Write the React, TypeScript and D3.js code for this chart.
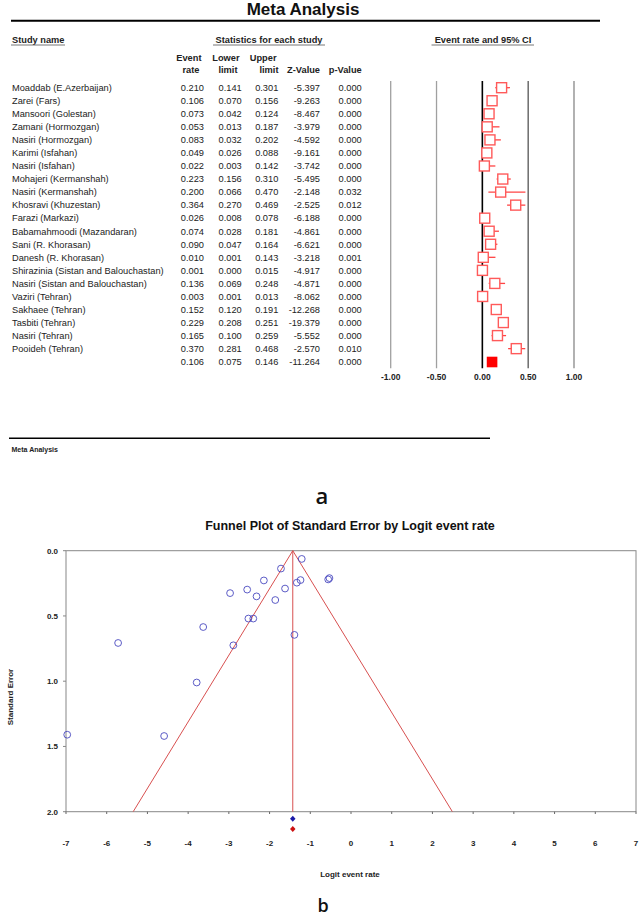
import React from "react";
import * as d3 from "d3";

// ---------- Forest plot data ----------
const studyNames = [
  "Moaddab (E.Azerbaijan)",
  "Zarei (Fars)",
  "Mansoori (Golestan)",
  "Zamani (Hormozgan)",
  "Nasiri (Hormozgan)",
  "Karimi (Isfahan)",
  "Nasiri (Isfahan)",
  "Mohajeri (Kermanshah)",
  "Nasiri (Kermanshah)",
  "Khosravi (Khuzestan)",
  "Farazi (Markazi)",
  "Babamahmoodi (Mazandaran)",
  "Sani (R. Khorasan)",
  "Danesh (R. Khorasan)",
  "Shirazinia (Sistan and Balouchastan)",
  "Nasiri (Sistan and Balouchastan)",
  "Vaziri (Tehran)",
  "Sakhaee (Tehran)",
  "Tasbiti (Tehran)",
  "Nasiri (Tehran)",
  "Pooideh (Tehran)",
];
const eventRate = [0.21, 0.106, 0.073, 0.053, 0.083, 0.049, 0.022, 0.223, 0.2, 0.364, 0.026, 0.074, 0.09, 0.01, 0.001, 0.136, 0.003, 0.152, 0.229, 0.165, 0.37];
const lowerLimit = [0.141, 0.07, 0.042, 0.013, 0.032, 0.026, 0.003, 0.156, 0.066, 0.27, 0.008, 0.028, 0.047, 0.001, 0.0, 0.069, 0.001, 0.12, 0.208, 0.1, 0.281];
const upperLimit = [0.301, 0.156, 0.124, 0.187, 0.202, 0.088, 0.142, 0.31, 0.47, 0.469, 0.078, 0.181, 0.164, 0.143, 0.015, 0.248, 0.013, 0.191, 0.251, 0.259, 0.468];
const zValue = [-5.397, -9.263, -8.467, -3.979, -4.592, -9.161, -3.742, -5.495, -2.148, -2.525, -6.188, -4.861, -6.621, -3.218, -4.917, -4.871, -8.062, -12.268, -19.379, -5.552, -2.57];
const pValue = [0.0, 0.0, 0.0, 0.0, 0.0, 0.0, 0.0, 0.0, 0.032, 0.012, 0.0, 0.0, 0.0, 0.001, 0.0, 0.0, 0.0, 0.0, 0.0, 0.0, 0.01];
const pooled = { rate: 0.106, lower: 0.075, upper: 0.146, z: -11.264, p: 0.0 };
const forestTicks = [-1, -0.5, 0, 0.5, 1];

// ---------- Funnel plot data ----------
const funnelLogit = [-1.33, -2.14, -2.55, -2.89, -2.4, -2.97, -3.79, -1.24, -1.39, -0.56, -3.63, -2.52, -2.32, -4.59, -6.97, -1.86, -5.72, -1.72, -1.21, -1.62, -0.53];
const funnelSE = [0.245, 0.228, 0.298, 0.725, 0.52, 0.325, 1.01, 0.225, 0.645, 0.22, 0.585, 0.52, 0.35, 1.42, 1.41, 0.378, 0.707, 0.137, 0.063, 0.29, 0.21];
const funnelCenter = -1.43;
const funnelXTicks = [-7, -6, -5, -4, -3, -2, -1, 0, 1, 2, 3, 4, 5, 6, 7];
const funnelYTicks = [0, 0.5, 1.0, 1.5, 2.0];

const locale = d3.formatLocale({
  decimal: ".",
  thousands: ",",
  grouping: [3],
  currency: ["", ""],
  minus: "-",
});
const f3 = locale.format(".3f");
const f2 = locale.format(".2f");
const f1 = locale.format(".1f");
const f0 = locale.format("d");
const FONT = "'Liberation Sans', Arial, sans-serif";

export default function App() {
  // forest scales
  const fx = d3.scaleLinear().domain([-1, 1]).range([390.7, 574]);
  const rowY = d3.scaleLinear().domain([0, 21]).range([87.7, 361.7]);
  const sq = 10;

  // funnel scales
  const x = d3.scaleLinear().domain([-7, 7]).range([66, 636]);
  const y = d3.scaleLinear().domain([0, 2]).range([550.7, 811.7]);

  const cols = [
    { xr: 204, vals: eventRate, pv: pooled.rate },
    { xr: 241.7, vals: lowerLimit, pv: pooled.lower },
    { xr: 278.3, vals: upperLimit, pv: pooled.upper },
    { xr: 320, vals: zValue, pv: pooled.z },
    { xr: 361.7, vals: pValue, pv: pooled.p },
  ];

  const lineColors = ["#a0a0a0", "#a0a0a0", "#000", "#555", "#888"];

  const diamond = (cx: number, cy: number, w: number, h: number) =>
    `M${cx},${cy - h / 2}L${cx + w / 2},${cy}L${cx},${cy + h / 2}L${cx - w / 2},${cy}Z`;

  const FS = 9.25;

  return (
    <svg
      width={640}
      height={918}
      style={{ position: "absolute", left: 0, top: 0, background: "#fff" }}
      fontFamily={FONT}
    >
      <rect x={0} y={0} width={640} height={918} fill="#fff" />
      {/* ===== Panel a ===== */}
      <text x={303} y={15} textAnchor="middle" fontSize={17} fontWeight="bold" fill="#111">
        Meta Analysis
      </text>
      <line x1={11} x2={600} y1={20.8} y2={20.8} stroke="#000" strokeWidth={2} />

      <text x={12} y={43} fontSize={FS} fontWeight="bold" fill="#222">Study name</text>
      <line x1={11} x2={65} y1={45} y2={45} stroke="#777" strokeWidth={1} />
      <text x={269} y={43} textAnchor="middle" fontSize={FS} fontWeight="bold" fill="#222">
        Statistics for each study
      </text>
      <line x1={213} x2={325} y1={45} y2={45} stroke="#777" strokeWidth={1} />
      <text x={483} y={42.5} textAnchor="middle" fontSize={FS} fontWeight="bold" fill="#222">
        Event rate and 95% CI
      </text>
      <line x1={431.5} x2={534} y1={45} y2={45} stroke="#777" strokeWidth={1} />

      {/* column headers */}
      <g fontSize={FS} fontWeight="bold" fill="#222" textAnchor="end">
        <text x={201.5} y={60.5}>Event</text>
        <text x={199.5} y={73.3}>rate</text>
        <text x={239.5} y={60.5}>Lower</text>
        <text x={237.5} y={73.3}>limit</text>
        <text x={276.5} y={60.5}>Upper</text>
        <text x={278.5} y={73.3}>limit</text>
        <text x={320} y={73.3}>Z-Value</text>
        <text x={361.7} y={73.3}>p-Value</text>
      </g>

      {/* table rows */}
      <g fontSize={FS} fill="#222">
        {studyNames.map((n, i) => (
          <text key={"n" + i} x={12} y={rowY(i) + 3.3}>{n}</text>
        ))}
        {cols.map((c, ci) =>
          c.vals.map((v, i) => (
            <text key={"c" + ci + "_" + i} x={c.xr} y={rowY(i) + 3.3} textAnchor="end">
              {f3(v)}
            </text>
          ))
        )}
        {cols.map((c, ci) => (
          <text key={"p" + ci} x={c.xr} y={rowY(21) + 3.3} textAnchor="end">
            {f3(c.pv)}
          </text>
        ))}
      </g>

      {/* forest grid lines */}
      {forestTicks.map((t, i) => (
        <g key={"ft" + i}>
          <line
            x1={fx(t)}
            x2={fx(t)}
            y1={81}
            y2={368.3}
            stroke={lineColors[i]}
            strokeWidth={t === 0 ? 1.6 : 1.3}
          />
          <text x={fx(t)} y={380} textAnchor="middle" fontSize={8.5} fontWeight="bold" fill="#222">
            {f2(t)}
          </text>
        </g>
      ))}

      {/* forest marks */}
      {eventRate.map((r, i) => (
        <g key={"fm" + i}>
          <line
            x1={fx(lowerLimit[i])}
            x2={fx(upperLimit[i])}
            y1={rowY(i)}
            y2={rowY(i)}
            stroke="#ff4444"
            strokeWidth={1.3}
          />
          <rect
            x={fx(r) - sq / 2}
            y={rowY(i) - sq / 2}
            width={sq}
            height={sq}
            fill="#fff"
            stroke="#ff5a5a"
            strokeWidth={1.4}
          />
        </g>
      ))}
      <rect
        x={fx(pooled.rate) - 5.3}
        y={rowY(21) - 5}
        width={10.6}
        height={10.6}
        fill="#ff0000"
      />

      <line x1={9} x2={490} y1={438.3} y2={438.3} stroke="#000" strokeWidth={1.6} />
      <text x={11.5} y={451.5} fontSize={7} fontWeight="bold" fill="#222">Meta Analysis</text>

      <text x={322} y={503.5} textAnchor="middle" fontSize={22} fontWeight={600} fill="#111" fontFamily="'Open Sans', sans-serif">
        a
      </text>

      {/* ===== Panel b: Funnel plot ===== */}
      <text x={350} y={529.5} textAnchor="middle" fontSize={12.5} fontWeight="bold" fill="#111">
        Funnel Plot of Standard Error by Logit event rate
      </text>

      <rect x={66} y={550.7} width={570} height={261} fill="none" stroke="#888" strokeWidth={1} />

      {funnelYTicks.map((t, i) => (
        <g key={"yt" + i}>
          <line x1={63} x2={66} y1={y(t)} y2={y(t)} stroke="#888" />
          <text x={58} y={y(t) + 3} textAnchor="end" fontSize={8} fontWeight="bold" fill="#222">
            {f1(t)}
          </text>
        </g>
      ))}
      {funnelXTicks.map((t, i) => (
        <g key={"xt" + i}>
          <line x1={x(t)} x2={x(t)} y1={811.7} y2={814} stroke="#666" />
          <text x={x(t)} y={846} textAnchor="middle" fontSize={8} fontWeight="bold" fill="#222">
            {f0(t)}
          </text>
        </g>
      ))}

      <text
        transform={`translate(13,697) rotate(-90)`}
        textAnchor="middle"
        fontSize={8}
        fontWeight="bold"
        fill="#222"
      >
        Standard Error
      </text>
      <text x={350} y={877} textAnchor="middle" fontSize={8} fontWeight="bold" fill="#222">
        Logit event rate
      </text>

      {/* funnel lines */}
      <g stroke="#d85050" strokeWidth={1} fill="none">
        <line x1={x(funnelCenter)} x2={x(funnelCenter)} y1={y(0)} y2={y(2)} />
        <line x1={x(funnelCenter)} y1={y(0)} x2={x(funnelCenter - 1.96 * 2)} y2={y(2)} />
        <line x1={x(funnelCenter)} y1={y(0)} x2={x(funnelCenter + 1.96 * 2)} y2={y(2)} />
      </g>

      {/* points */}
      {funnelLogit.map((l, i) => (
        <circle key={"pt" + i} cx={x(l)} cy={y(funnelSE[i])} r={3.4} fill="none" stroke="#4a4ac0" strokeWidth={0.9} />
      ))}

      <path d={diamond(x(funnelCenter), 818.7, 5.5, 6)} fill="#1a1aa8" />
      <path d={diamond(x(funnelCenter), 829, 5.5, 6)} fill="#cc1111" />

      <text x={323} y={911.5} textAnchor="middle" fontSize={18} fontWeight={600} fill="#111" fontFamily="'Open Sans', sans-serif">
        b
      </text>
    </svg>
  );
}
